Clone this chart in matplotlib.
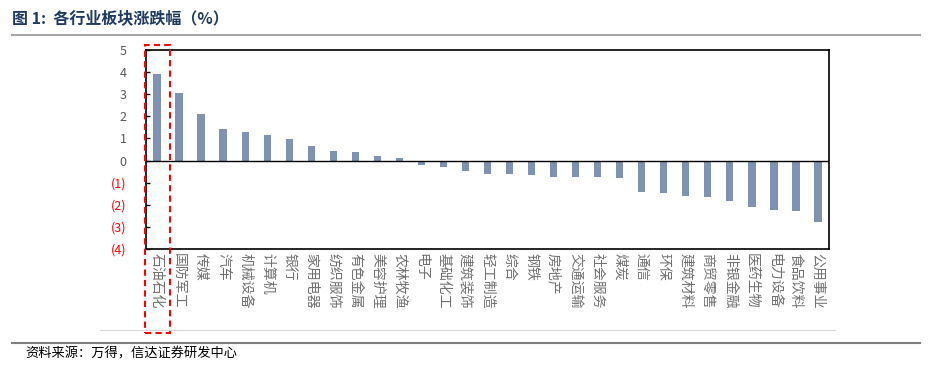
import numpy as np
import matplotlib.pyplot as plt
from matplotlib.patches import Rectangle
from matplotlib.lines import Line2D

plt.rcParams['font.family'] = ['Noto Sans CJK SC', 'DejaVu Sans']

# data
industries = ['石油石化', '国防军工', '传媒', '汽车', '机械设备', '计算机', '银行',
              '家用电器', '纺织服饰', '有色金属', '美容护理', '农林牧渔', '电子',
              '基础化工', '建筑装饰', '轻工制造', '综合', '钢铁', '房地产', '交通运输',
              '社会服务', '煤炭', '通信', '环保', '建筑材料', '商贸零售', '非银金融',
              '医药生物', '电力设备', '食品饮料', '公用事业']
changes = [3.90, 3.05, 2.10, 1.44, 1.29, 1.14, 0.99, 0.67, 0.41, 0.38, 0.20, 0.10,
           -0.18, -0.30, -0.47, -0.60, -0.60, -0.67, -0.73, -0.73, -0.76, -0.79,
           -1.44, -1.45, -1.62, -1.65, -1.85, -2.08, -2.23, -2.27, -2.76]
yticks = [5, 4, 3, 2, 1, 0, -1, -2, -3, -4]

W, H = 932, 367
fig = plt.figure(figsize=(W / 100, H / 100), dpi=100)
ax = fig.add_axes([146 / W, 1 - 249 / H, (829 - 146) / W, (249 - 50) / H])

x = np.arange(len(industries))
ax.bar(x, changes, width=0.33, color='#8092B1', zorder=2)
ax.axhline(0, color='black', lw=1.0, zorder=3)
ax.set_xlim(-0.5, len(industries) - 0.5)
ax.set_ylim(-4, 5)

for s in ax.spines.values():
    s.set_color('black')
    s.set_linewidth(1.2)

ax.set_yticks(yticks)
ax.set_yticklabels([str(v) if v >= 0 else '(%d)' % abs(v) for v in yticks])
for v, lab in zip(yticks, ax.get_yticklabels()):
    lab.set_color('#595959' if v >= 0 else '#FF0000')
ax.tick_params(axis='y', direction='in', length=3, width=1, labelsize=9, pad=14)

ax.set_xticks(x)
ax.set_xticklabels(industries, rotation=-90, fontsize=10, color='#707070', va='top', ha='center')
ax.tick_params(axis='x', length=0, pad=3)

# red dashed highlight box around the first category
trans = ax.get_xaxis_transform()
ax.add_patch(Rectangle((-0.55, -0.42), 1.14, 1.445, transform=trans, fill=False,
                       edgecolor='#FF0000', lw=1.5, ls=(0, (3, 2)), clip_on=False, zorder=5))

# title, rules and source
fig.text(12 / W, 1 - 18 / H, '图 1:  各行业板块涨跌幅（%）', fontsize=11.5, fontweight='bold',
         color='#1F3A60', va='center', ha='left')
fig.add_artist(Line2D([12 / W, 920 / W], [1 - 35 / H] * 2, color='#A6A6A6', lw=1.5))
fig.add_artist(Line2D([100 / W, 835 / W], [1 - 330 / H] * 2, color='#D9D9D9', lw=0.8))
fig.add_artist(Line2D([12 / W, 920 / W], [1 - 343 / H] * 2, color='#808080', lw=1.5))
fig.text(25 / W, 1 - 354 / H, '资料来源：万得，信达证券研发中心', fontsize=9.5, style='italic',
         color='black', va='center', ha='left')

fig.savefig('out.png', dpi=100)
